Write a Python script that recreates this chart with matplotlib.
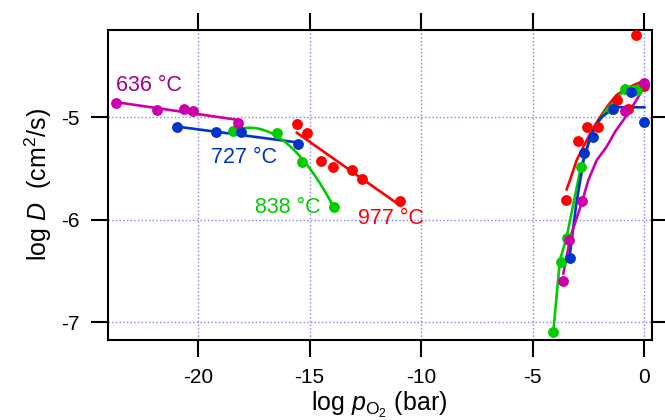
import matplotlib
matplotlib.use("Agg")
import matplotlib.pyplot as plt
import numpy as np

plt.rcParams['font.family'] = ['Liberation Sans', 'DejaVu Sans']
plt.rcParams['mathtext.fontset'] = 'custom'
plt.rcParams['mathtext.rm'] = 'Liberation Sans'
plt.rcParams['mathtext.it'] = 'Liberation Sans:italic'
plt.rcParams['axes.unicode_minus'] = False

# left side: low pO2 data (log pO2, log D)
mag_lo_x = [-23.67, -21.85, -20.61, -20.23, -18.22]
mag_lo_y = [-4.866, -4.93, -4.92, -4.94, -5.055]
blu_lo_x = [-20.95, -19.2, -18.07, -15.5]
blu_lo_y = [-5.10, -5.15, -5.15, -5.26]
grn_lo_x = [-18.44, -16.47, -15.32, -13.9]
grn_lo_y = [-5.14, -5.16, -5.44, -5.875]
red_lo_x = [-15.57, -15.13, -14.5, -13.96, -13.11, -12.63, -10.93]
red_lo_y = [-5.068, -5.16, -5.43, -5.49, -5.52, -5.60, -5.82]

# right side: high pO2 data
red_hi_x = [-3.51, -2.96, -2.58, -2.06, -1.24, -0.72, 0.0, -0.39]
red_hi_y = [-5.81, -5.23, -5.10, -5.095, -4.83, -4.925, -4.70, -4.20]
blu_hi_x = [-3.33, -2.70, -2.28, -1.42, -0.61, 0.0]
blu_hi_y = [-6.37, -5.355, -5.19, -4.925, -4.76, -5.045]
grn_hi_x = [-4.08, -3.75, -3.48, -2.84, -1.46, -0.86, -0.34]
grn_hi_y = [-7.095, -6.41, -6.18, -5.485, -4.925, -4.73, -4.74]
mag_hi_x = [-3.63, -3.37, -2.78, -0.86, 0.0]
mag_hi_y = [-6.60, -6.20, -5.82, -4.94, -4.67]

# fitted curves on the high pO2 side
red_fit_x = [-3.48, -3.33, -3.03, -2.73, -2.35, -1.98, -1.6, -1.24, -0.85, -0.49, 0.0]
red_fit_y = [-5.705, -5.615, -5.42, -5.29, -5.13, -5.0, -4.88, -4.785, -4.73, -4.69, -4.645]
blu_fit_x = [-3.35, -3.05, -2.72, -2.43, -2.13, -1.9, -1.66, -1.45, -1.3, -0.6, 0.0]
blu_fit_y = [-6.36, -5.85, -5.42, -5.2, -5.06, -5.0, -4.96, -4.925, -4.905, -4.905, -4.905]
grn_fit_x = [-4.08, -3.78, -3.48, -2.84, -2.36, -2.0, -1.69, -1.3, -0.94, -0.6, -0.2]
grn_fit_y = [-7.095, -6.395, -6.17, -5.485, -5.16, -5.03, -4.93, -4.83, -4.75, -4.71, -4.69]
mag_fit_x = [-3.63, -3.3, -2.78, -2.51, -2.13, -1.69, -1.3, -0.94, -0.6, -0.34, 0.0]
mag_fit_y = [-6.525, -6.16, -5.82, -5.615, -5.42, -5.29, -5.14, -5.03, -4.92, -4.83, -4.70]

labels = ['636 °C', '727 °C', '838 °C', '977 °C']
label_x = [-23.65, -19.4, -17.45, -12.85]
label_y = [-4.69, -5.39, -5.88, -5.99]

c_mag = '#cc00aa'
c_blu = '#0033cc'
c_grn = '#00cc00'
c_red = '#ff0000'
c_magtxt = '#a0008c'

fig = plt.figure(figsize=(6.65, 4.2), dpi=100)
ax = fig.add_axes([0.1617, 0.19, 0.8183, 0.739])

ms = 7.8
lw = 1.9

# straight line fits at low pO2
for xs, ys, c in [(mag_lo_x, mag_lo_y, c_mag), (blu_lo_x, blu_lo_y, c_blu),
                  (red_lo_x, red_lo_y, c_red)]:
    p = np.polyfit(xs, ys, 1)
    xx = np.array([min(xs), max(xs)])
    ax.plot(xx, np.polyval(p, xx), color=c, lw=lw, zorder=2)
p = np.polyfit(grn_lo_x, grn_lo_y, 2)
xx = np.linspace(min(grn_lo_x), max(grn_lo_x), 60)
ax.plot(xx, np.polyval(p, xx), color=c_grn, lw=lw, zorder=2)

for xs, ys, c in [(red_fit_x, red_fit_y, c_red), (grn_fit_x, grn_fit_y, c_grn),
                  (blu_fit_x, blu_fit_y, c_blu), (mag_fit_x, mag_fit_y, c_mag)]:
    ax.plot(xs, ys, color=c, lw=lw, zorder=2)

for xs, ys, c in [(red_lo_x, red_lo_y, c_red), (red_hi_x, red_hi_y, c_red),
                  (grn_lo_x, grn_lo_y, c_grn), (grn_hi_x, grn_hi_y, c_grn),
                  (blu_lo_x, blu_lo_y, c_blu), (blu_hi_x, blu_hi_y, c_blu),
                  (mag_lo_x, mag_lo_y, c_mag), (mag_hi_x, mag_hi_y, c_mag)]:
    ax.plot(xs, ys, 'o', color=c, ms=ms, mec='none', zorder=3, clip_on=False)

for t, x, y, c in zip(labels, label_x, label_y, [c_magtxt, c_blu, c_grn, c_red]):
    ax.text(x, y, t, color=c, fontsize=15.5, va='center', ha='left')

ax.set_xlim(-24.05, 0.33)
ax.set_ylim(-7.175, -4.15)
ax.set_xticks([-20, -15, -10, -5, 0])
ax.set_yticks([-7, -6, -5])
ax.grid(True, color='#8080ff', linestyle=':', linewidth=1)
ax.tick_params(direction='out', length=12, width=1.5, labelsize=15,
               top=True, right=True, pad=8)
for s in ax.spines.values():
    s.set_linewidth(1.5)

ax.set_xlabel(r'log $p_{\mathrm{O_2}}$ (bar)', fontsize=18, labelpad=2)
ax.set_ylabel(r'log $D$  (cm$^2$/s)', fontsize=18, labelpad=5)

fig.savefig('out.png', dpi=100)
